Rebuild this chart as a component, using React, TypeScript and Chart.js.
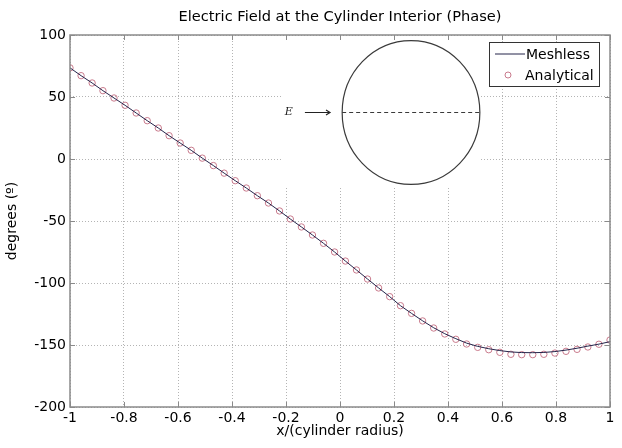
import { useEffect, useRef } from 'react';
import { Chart, registerables } from 'chart.js';

Chart.register(...registerables);

// ---------- data ----------
const xPositions = [
  -1, -0.959, -0.918, -0.878, -0.837, -0.796, -0.755, -0.714, -0.673, -0.633,
  -0.592, -0.551, -0.51, -0.469, -0.429, -0.388, -0.347, -0.306, -0.265, -0.224,
  -0.184, -0.143, -0.102, -0.061, -0.02, 0.02, 0.061, 0.102, 0.143, 0.184,
  0.224, 0.265, 0.306, 0.347, 0.388, 0.429, 0.469, 0.51, 0.551, 0.592,
  0.633, 0.673, 0.714, 0.755, 0.796, 0.837, 0.878, 0.918, 0.959, 1,
];

const analyticalPhase = [
  73.5, 67.2, 61.3, 55.1, 49.2, 43.3, 37.1, 30.9, 25.0, 18.8,
  12.9, 7.0, 0.7, -5.3, -11.4, -17.5, -23.4, -29.6, -35.5, -41.9,
  -48.4, -54.8, -61.3, -68.0, -75.0, -82.3, -89.5, -96.8, -104.0, -111.0,
  -118.3, -124.5, -130.6, -136.3, -141.1, -145.4, -149.2, -151.9, -153.8, -155.9,
  -157.5, -157.8, -157.8, -157.5, -156.5, -155.1, -153.5, -151.6, -149.4, -146.0,
];

const meshlessPhase = [
  73.5, 67.2, 61.3, 55.1, 49.2, 43.3, 37.1, 30.9, 25.0, 18.8,
  12.9, 7.0, 0.7, -5.3, -11.4, -17.5, -23.4, -29.6, -35.5, -41.9,
  -48.4, -54.8, -61.3, -68.0, -75.0, -82.3, -89.5, -96.8, -104.0, -111.0,
  -118.3, -124.5, -130.5, -136.1, -140.9, -144.9, -148.5, -151.1, -153.0, -154.5,
  -155.6, -156.1, -156.2, -156.0, -155.3, -154.1, -152.6, -150.9, -149.3, -147.3,
];

const xTickValues = [-1, -0.8, -0.6, -0.4, -0.2, 0, 0.2, 0.4, 0.6, 0.8, 1];
const xTickLabels = ['-1', '-0.8', '-0.6', '-0.4', '-0.2', '0', '0.2', '0.4', '0.6', '0.8', '1'];
const yTickValues = [-200, -150, -100, -50, 0, 50, 100];
const yTickLabels = ['-200', '-150', '-100', '-50', '0', '50', '100'];

const titleText = 'Electric Field at the Cylinder Interior (Phase)';
const xAxisTitle = 'x/(cylinder radius)';
const yAxisTitle = 'degrees (º)';
const legendLabels = ['Meshless', 'Analytical'];
const insetLabel = 'E';

// ---------- styling / geometry ----------
const FONT = 'DejaVu Sans';
const LINE_COLOR = '#24244a';
const MARKER_COLOR = '#c97a8c';
const AXIS_COLOR = '#8a8a8a';
const GRID_COLOR = '#b4b4b4';

// inset drawing (in data units)
const inset = {
  boxLeft: -0.212,
  boxRight: 0.522,
  boxBottom: -23.4,
  cx: 0.263,
  cy: 37.5,
  rx: 0.255,
  ry: 58,
  labelX: -0.19,
  arrowFrom: -0.13,
  arrowTo: -0.037,
};

const decorPlugin = {
  id: 'decor',
  beforeDatasetsDraw(chart: any) {
    const { ctx, chartArea } = chart;
    const x = chart.scales.x;
    const y = chart.scales.y;
    ctx.save();
    const l = x.getPixelForValue(inset.boxLeft);
    const r = x.getPixelForValue(inset.boxRight);
    const b = y.getPixelForValue(inset.boxBottom);
    ctx.fillStyle = '#ffffff';
    ctx.fillRect(l, chartArea.top + 1, r - l, b - chartArea.top - 1);

    const cx = x.getPixelForValue(inset.cx);
    const cy = y.getPixelForValue(inset.cy);
    const rx = x.getPixelForValue(inset.cx + inset.rx) - cx;
    const ry = cy - y.getPixelForValue(inset.cy + inset.ry);
    ctx.strokeStyle = '#3a3a3a';
    ctx.lineWidth = 1.2;
    ctx.beginPath();
    ctx.ellipse(cx, cy, rx, ry, 0, 0, Math.PI * 2);
    ctx.stroke();

    ctx.lineWidth = 1.1;
    ctx.setLineDash([4, 3]);
    ctx.beginPath();
    ctx.moveTo(cx - rx, cy);
    ctx.lineTo(cx + rx, cy);
    ctx.stroke();
    ctx.setLineDash([]);

    ctx.fillStyle = '#222';
    ctx.font = 'italic 11px "DejaVu Serif", "Liberation Serif", serif';
    ctx.textAlign = 'center';
    ctx.textBaseline = 'middle';
    ctx.fillText(insetLabel, x.getPixelForValue(inset.labelX), cy);
    const a0 = x.getPixelForValue(inset.arrowFrom);
    const a1 = x.getPixelForValue(inset.arrowTo);
    ctx.strokeStyle = '#222';
    ctx.lineWidth = 1.2;
    ctx.beginPath();
    ctx.moveTo(a0, cy);
    ctx.lineTo(a1, cy);
    ctx.moveTo(a1 - 4, cy - 2.5);
    ctx.lineTo(a1, cy);
    ctx.lineTo(a1 - 4, cy + 2.5);
    ctx.stroke();
    ctx.restore();
  },
  afterDatasetsDraw(chart: any) {
    const { ctx, chartArea } = chart;
    const x = chart.scales.x;
    const y = chart.scales.y;
    const { left, right, top, bottom } = chartArea;
    ctx.save();
    ctx.strokeStyle = AXIS_COLOR;
    ctx.lineWidth = 1.5;
    ctx.strokeRect(left, top, right - left, bottom - top);
    ctx.lineWidth = 1;
    ctx.beginPath();
    const tl = 5;
    xTickValues.forEach((v) => {
      const px = Math.round(x.getPixelForValue(v)) + 0.5;
      ctx.moveTo(px, bottom);
      ctx.lineTo(px, bottom - tl);
      ctx.moveTo(px, top);
      ctx.lineTo(px, top + tl);
    });
    yTickValues.forEach((v) => {
      const py = Math.round(y.getPixelForValue(v)) + 0.5;
      ctx.moveTo(left, py);
      ctx.lineTo(left + tl, py);
      ctx.moveTo(right, py);
      ctx.lineTo(right - tl, py);
    });
    ctx.stroke();

    // legend
    const lw = 110;
    const lh = 44;
    const lx = right - 11 - lw;
    const ly = top + 7;
    ctx.fillStyle = '#ffffff';
    ctx.fillRect(lx, ly, lw, lh);
    ctx.strokeStyle = '#333';
    ctx.lineWidth = 1;
    ctx.strokeRect(lx + 0.5, ly + 0.5, lw, lh);
    const row1 = ly + 12;
    const row2 = ly + 33;
    ctx.strokeStyle = LINE_COLOR;
    ctx.beginPath();
    ctx.moveTo(lx + 6, row1);
    ctx.lineTo(lx + 36, row1);
    ctx.stroke();
    ctx.strokeStyle = MARKER_COLOR;
    ctx.beginPath();
    ctx.arc(lx + 19, row2, 3, 0, Math.PI * 2);
    ctx.stroke();
    ctx.fillStyle = '#000';
    ctx.font = `14px "${FONT}"`;
    ctx.textAlign = 'left';
    ctx.textBaseline = 'middle';
    ctx.fillText(legendLabels[0], lx + 37, row1 + 1);
    ctx.fillText(legendLabels[1], lx + 36, row2 + 1);

    // title
    ctx.font = `14.6px "${FONT}"`;
    ctx.textAlign = 'center';
    ctx.textBaseline = 'alphabetic';
    ctx.fillText(titleText, (left + right) / 2, 20.8);
    ctx.restore();
  },
};

export default function App() {
  const canvasRef = useRef<HTMLCanvasElement | null>(null);

  useEffect(() => {
    if (!canvasRef.current) return;
    const chart = new Chart(canvasRef.current, {
      type: 'scatter',
      data: {
        datasets: [
          {
            label: legendLabels[0],
            data: xPositions.map((xv, i) => ({ x: xv, y: meshlessPhase[i] })),
            showLine: true,
            borderColor: LINE_COLOR,
            borderWidth: 1,
            pointRadius: 0,
            tension: 0,
            order: 1,
          },
          {
            label: legendLabels[1],
            data: xPositions.map((xv, i) => ({ x: xv, y: analyticalPhase[i] })),
            showLine: false,
            pointStyle: 'circle',
            pointRadius: 3.2,
            pointBorderWidth: 1,
            pointBorderColor: MARKER_COLOR,
            pointBackgroundColor: 'rgba(0,0,0,0)',
            order: 2,
          },
        ],
      },
      options: {
        responsive: false,
        animation: false,
        layout: { padding: { top: 35, right: 12, left: 0, bottom: 0 } },
        plugins: {
          legend: { display: false },
          title: { display: false },
          tooltip: { enabled: false },
        },
        scales: {
          x: {
            type: 'linear',
            min: -1,
            max: 1,
            afterBuildTicks: (scale: any) => {
              scale.ticks = xTickValues.map((v) => ({ value: v }));
            },
            afterFit: (scale: any) => {
              scale.height = 41;
            },
            ticks: {
              autoSkip: false,
              maxRotation: 0,
              padding: 3,
              color: '#000',
              font: { family: FONT, size: 14 },
              callback: (_v: any, i: number) => xTickLabels[i],
            },
            grid: { color: GRID_COLOR, lineWidth: 1, drawTicks: false },
            border: { display: false, dash: [1, 2] },
            title: {
              display: true,
              text: xAxisTitle,
              color: '#000',
              font: { family: FONT, size: 14 },
              padding: { top: 0, bottom: 8.5 },
            },
          },
          y: {
            type: 'linear',
            min: -200,
            max: 100,
            afterBuildTicks: (scale: any) => {
              scale.ticks = yTickValues.map((v) => ({ value: v }));
            },
            afterFit: (scale: any) => {
              scale.width = 70;
            },
            ticks: {
              autoSkip: false,
              padding: 4,
              color: '#000',
              font: { family: FONT, size: 14 },
              callback: (_v: any, i: number) => yTickLabels[i],
            },
            grid: { color: GRID_COLOR, lineWidth: 1, drawTicks: false },
            border: { display: false, dash: [1, 2] },
            title: {
              display: true,
              text: yAxisTitle,
              color: '#000',
              font: { family: FONT, size: 14 },
              padding: { top: 3.6, bottom: 0 },
            },
          },
        },
      },
      plugins: [decorPlugin],
    } as any);
    return () => chart.destroy();
  }, []);

  return (
    <div style={{ position: 'fixed', left: 0, top: 0, width: 622, height: 448, background: '#fff' }}>
      <canvas ref={canvasRef} width={622} height={448} style={{ display: 'block' }} />
    </div>
  );
}
